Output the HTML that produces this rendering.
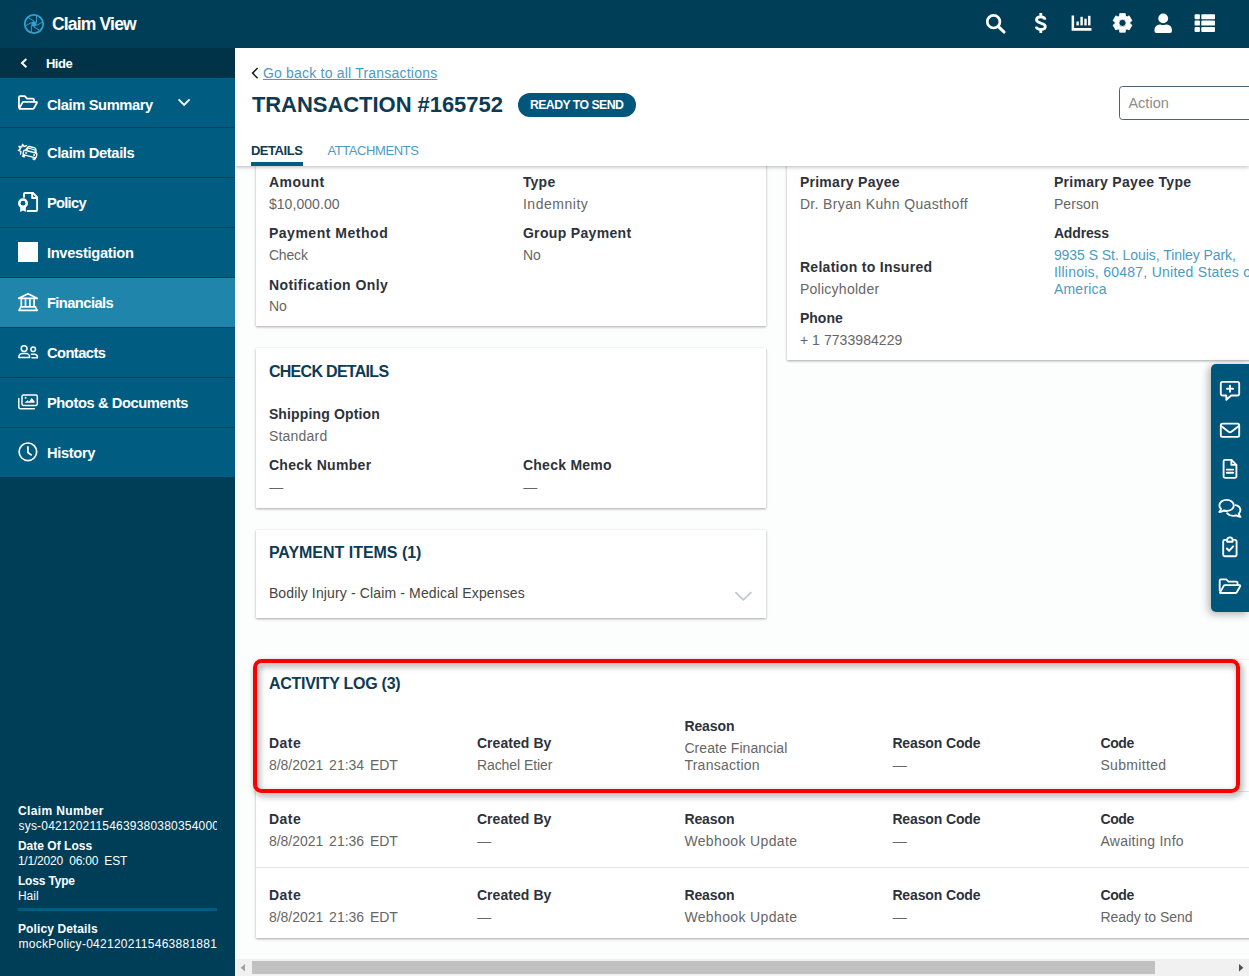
<!DOCTYPE html>
<html lang="en">
<head>
<meta charset="utf-8">
<title>Claim View - Transaction #165752</title>
<style>
*{box-sizing:border-box;margin:0;padding:0}
html,body{width:1249px;height:976px;overflow:hidden;background:#fcfdfd}
body{font-family:"Liberation Sans",sans-serif;font-size:14px;color:#2b2b2b;position:relative}
.a{position:absolute}
.t{position:absolute;white-space:pre;line-height:1;z-index:5}
.b{font-weight:bold}
#hdr{left:0;top:0;width:1249px;height:48px;background:#003e57;z-index:4}
#side{left:0;top:48px;width:235px;height:928px;background:#003e58;z-index:4}
#hide{left:0;top:0;width:235px;height:30px;background:#003348}
.nav{position:absolute;left:0;width:235px;height:50px;background:#005c80;border-bottom:1px solid #00435f}
.nav.on{background:#2085ab}
#top{left:235px;top:48px;width:1014px;height:118px;background:#fff;box-shadow:0 1px 4px rgba(0,0,0,.28);z-index:3}
.card{position:absolute;background:#fff;box-shadow:0 1px 3px rgba(0,0,0,.14),0 1px 2px rgba(0,0,0,.22);z-index:1}
svg{position:absolute;overflow:visible;z-index:6}
.ol{fill:none;stroke:#fff;stroke-width:1.6;stroke-linecap:round;stroke-linejoin:round}
.sep{position:absolute;height:1px;background:#dfe6eb;z-index:2}
</style>
</head>
<body>

<div id="hdr" class="a"></div>
<div id="side" class="a"><div id="hide" class="a"></div>
<div class="nav" style="top:30px"></div>
<div class="nav" style="top:80px"></div>
<div class="nav" style="top:130px"></div>
<div class="nav" style="top:180px"></div>
<div class="nav on" style="top:230px"></div>
<div class="nav" style="top:280px"></div>
<div class="nav" style="top:330px"></div>
<div class="nav" style="top:380px;height:49px;border-bottom:0"></div>
<div class="a" style="left:18px;top:860px;width:199px;height:3px;background:#005c80"></div>
</div>
<div id="top" class="a"></div>
<div class="a" style="left:518px;top:93px;width:118px;height:24px;border-radius:12px;background:#00567b;z-index:4"></div>
<div class="a" style="left:251px;top:162px;width:52px;height:4px;background:#005c80;z-index:4"></div>
<div class="a" style="left:1119px;top:86px;width:150px;height:34px;border:1px solid #4b6272;border-radius:3.500px;background:#fff;z-index:4"></div>
<div class="card" style="left:256px;top:130px;width:510px;height:196px"></div>
<div class="card" style="left:787px;top:130px;width:480px;height:230px"></div>
<div class="card" style="left:256px;top:348px;width:510px;height:160px"></div>
<div class="card" style="left:256px;top:530px;width:510px;height:88px"></div>
<div class="card" style="left:256px;top:660px;width:1010px;height:278px"></div>
<div class="sep" style="left:256px;top:791px;width:993px"></div>
<div class="sep" style="left:256px;top:867px;width:993px"></div>
<div class="a" style="left:253px;top:659px;width:986.800px;height:133.500px;border:4px solid #fc0000;border-radius:8.500px;z-index:7;filter:drop-shadow(2px 3px 3px rgba(0,0,0,.43))"></div>
<div class="a" style="left:1211px;top:364px;width:38px;height:247.500px;background:#00557a;border-radius:5px 0 0 5px;box-shadow:-2px 2px 8px rgba(0,0,0,.32);z-index:4"></div>
<div class="a" style="left:235px;top:959px;width:1014px;height:17px;background:#f1f1f1;z-index:8"></div>
<div class="a" style="left:252px;top:961px;width:903px;height:13px;background:#c1c1c1;z-index:9"></div>
<svg style="left:0;top:0;z-index:9" width="1249" height="976"><path d="M245 964v7.4l-4.4-3.7z" fill="#a3a3a3"/><path d="M1239 964v7.4l4.4-3.7z" fill="#505050"/></svg>
<div class="a" style="left:18.5px;top:817.64px;width:198.7px;height:17px;overflow:hidden;z-index:5"><span class="t" style="left:0;top:2px;font-size:12px;color:#fff;letter-spacing:0.2px">sys-0421202115463938038035400012</span></div>
<div class="a" style="left:18.5px;top:936.14px;width:198.7px;height:17px;overflow:hidden;z-index:5"><span class="t" style="left:0;top:2px;font-size:12px;color:#fff;letter-spacing:0.27px">mockPolicy-042120211546388188188</span></div>
<div class="t b" style="left:51.9px;top:16.19px;font-size:17.5px;color:#fff;letter-spacing:-0.809px">Claim View</div>
<div class="t b" style="left:45.9px;top:57.00px;font-size:13px;color:#fff;letter-spacing:-0.418px">Hide</div>
<div class="t b" style="left:46.9px;top:97.56px;font-size:14.7px;color:#fff;letter-spacing:-0.387px">Claim Summary</div>
<div class="t b" style="left:46.9px;top:145.56px;font-size:14.7px;color:#fff;letter-spacing:-0.365px">Claim Details</div>
<div class="t b" style="left:46.9px;top:195.56px;font-size:14.7px;color:#fff;letter-spacing:-0.714px">Policy</div>
<div class="t b" style="left:46.9px;top:245.56px;font-size:14.7px;color:#fff;letter-spacing:-0.300px">Investigation</div>
<div class="t b" style="left:46.9px;top:295.56px;font-size:14.7px;color:#fff;letter-spacing:-0.554px">Financials</div>
<div class="t b" style="left:46.9px;top:345.56px;font-size:14.7px;color:#fff;letter-spacing:-0.543px">Contacts</div>
<div class="t b" style="left:46.9px;top:395.56px;font-size:14.7px;color:#fff;letter-spacing:-0.407px">Photos &amp; Documents</div>
<div class="t b" style="left:46.9px;top:445.56px;font-size:14.7px;color:#fff;letter-spacing:-0.344px">History</div>
<div class="t b" style="left:17.9px;top:804.84px;font-size:12px;color:#fff;letter-spacing:0.378px">Claim Number</div>
<div class="t b" style="left:17.9px;top:839.84px;font-size:12px;color:#fff;letter-spacing:0.024px">Date Of Loss</div>
<div class="t" style="left:17.9px;top:854.54px;font-size:12px;color:#fff;letter-spacing:-0.197px;word-spacing:3px">1/1/2020 06:00 EST</div>
<div class="t b" style="left:17.9px;top:874.84px;font-size:12px;color:#fff;letter-spacing:-0.163px">Loss Type</div>
<div class="t" style="left:17.9px;top:889.54px;font-size:12px;color:#fff;letter-spacing:0.057px">Hail</div>
<div class="t b" style="left:17.9px;top:923.24px;font-size:12px;color:#fff;letter-spacing:0.132px">Policy Details</div>
<div class="t" style="left:262.9px;top:65.65px;font-size:14px;color:#4a9bc4;letter-spacing:0.208px;text-decoration:underline;text-underline-offset:1px">Go back to all Transactions</div>
<div class="t b" style="left:251.9px;top:93.58px;font-size:22px;color:#0d3b54;letter-spacing:-0.046px">TRANSACTION #165752</div>
<div class="t b" style="left:529.9px;top:98.59px;font-size:12.3px;color:#fff;letter-spacing:-0.553px">READY TO SEND</div>
<div class="t b" style="left:250.9px;top:144.00px;font-size:13px;color:#0d3b54;letter-spacing:-0.451px">DETAILS</div>
<div class="t" style="left:327.4px;top:144.00px;font-size:13px;color:#4a9bc4;letter-spacing:-0.416px">ATTACHMENTS</div>
<div class="t" style="left:1128.4px;top:95.73px;font-size:14.5px;color:#8c8c8c;letter-spacing:0.031px">Action</div>
<div class="t b" style="left:268.9px;top:175.15px;font-size:14px;color:#2d323b;letter-spacing:0.485px">Amount</div>
<div class="t" style="left:268.9px;top:197.15px;font-size:14px;color:#666;letter-spacing:0.062px">$10,000.00</div>
<div class="t b" style="left:268.9px;top:226.15px;font-size:14px;color:#2d323b;letter-spacing:0.527px">Payment Method</div>
<div class="t" style="left:268.9px;top:248.15px;font-size:14px;color:#666;letter-spacing:-0.158px">Check</div>
<div class="t b" style="left:268.9px;top:277.65px;font-size:14px;color:#2d323b;letter-spacing:0.435px">Notification Only</div>
<div class="t" style="left:268.9px;top:299.15px;font-size:14px;color:#666;letter-spacing:0.047px">No</div>
<div class="t b" style="left:522.9px;top:175.15px;font-size:14px;color:#2d323b;letter-spacing:0.215px">Type</div>
<div class="t" style="left:522.9px;top:197.15px;font-size:14px;color:#666;letter-spacing:0.533px">Indemnity</div>
<div class="t b" style="left:522.9px;top:226.15px;font-size:14px;color:#2d323b;letter-spacing:0.327px">Group Payment</div>
<div class="t" style="left:522.9px;top:248.15px;font-size:14px;color:#666;letter-spacing:0.047px">No</div>
<div class="t b" style="left:799.9px;top:175.15px;font-size:14px;color:#2d323b;letter-spacing:0.267px">Primary Payee</div>
<div class="t" style="left:799.9px;top:197.15px;font-size:14px;color:#666;letter-spacing:0.363px">Dr. Bryan Kuhn Quasthoff</div>
<div class="t b" style="left:799.9px;top:260.15px;font-size:14px;color:#2d323b;letter-spacing:0.300px">Relation to Insured</div>
<div class="t" style="left:799.9px;top:282.15px;font-size:14px;color:#666;letter-spacing:0.270px">Policyholder</div>
<div class="t b" style="left:799.9px;top:310.65px;font-size:14px;color:#2d323b;letter-spacing:0.044px">Phone</div>
<div class="t" style="left:799.9px;top:333.15px;font-size:14px;color:#666;letter-spacing:0.064px">+ 1 7733984229</div>
<div class="t b" style="left:1053.9px;top:175.15px;font-size:14px;color:#2d323b;letter-spacing:0.303px">Primary Payee Type</div>
<div class="t" style="left:1053.9px;top:197.15px;font-size:14px;color:#666;letter-spacing:0.107px">Person</div>
<div class="t b" style="left:1053.9px;top:226.15px;font-size:14px;color:#2d323b;letter-spacing:-0.147px">Address</div>
<div class="t" style="left:1053.9px;top:248.15px;font-size:14px;color:#4a9bc4;letter-spacing:-0.055px">9935 S St. Louis, Tinley Park,</div>
<div class="t" style="left:1053.9px;top:265.15px;font-size:14px;color:#4a9bc4;letter-spacing:0.257px">Illinois, 60487, United States of</div>
<div class="t" style="left:1053.9px;top:282.15px;font-size:14px;color:#4a9bc4;letter-spacing:0.234px">America</div>
<div class="t b" style="left:268.9px;top:364.26px;font-size:16px;color:#0d3b54;letter-spacing:-0.700px">CHECK DETAILS</div>
<div class="t b" style="left:268.9px;top:407.15px;font-size:14px;color:#2d323b;letter-spacing:0.142px">Shipping Option</div>
<div class="t" style="left:268.9px;top:429.15px;font-size:14px;color:#666;letter-spacing:0.209px">Standard</div>
<div class="t b" style="left:268.9px;top:458.15px;font-size:14px;color:#2d323b;letter-spacing:0.307px">Check Number</div>
<div class="t b" style="left:522.9px;top:458.15px;font-size:14px;color:#2d323b;letter-spacing:0.264px">Check Memo</div>
<div class="t b" style="left:268.9px;top:545.26px;font-size:16px;color:#0d3b54;letter-spacing:-0.024px">PAYMENT ITEMS (1)</div>
<div class="t" style="left:268.9px;top:586.15px;font-size:14px;color:#444;letter-spacing:0.137px">Bodily Injury - Claim - Medical Expenses</div>
<div class="t b" style="left:268.9px;top:676.26px;font-size:16px;color:#0d3b54;letter-spacing:-0.264px">ACTIVITY LOG (3)</div>
<div class="t b" style="left:268.9px;top:736.15px;font-size:14px;color:#2d323b;letter-spacing:0.535px">Date</div>
<div class="t" style="left:268.9px;top:758.15px;font-size:14px;color:#666;letter-spacing:-0.017px;word-spacing:2px">8/8/2021 21:34 EDT</div>
<div class="t b" style="left:476.9px;top:736.15px;font-size:14px;color:#2d323b;letter-spacing:0.058px">Created By</div>
<div class="t b" style="left:892.4px;top:736.15px;font-size:14px;color:#2d323b;letter-spacing:-0.134px">Reason Code</div>
<div class="t b" style="left:1100.4px;top:736.15px;font-size:14px;color:#2d323b;letter-spacing:-0.375px">Code</div>
<div class="t" style="left:1100.4px;top:758.15px;font-size:14px;color:#666;letter-spacing:0.328px">Submitted</div>
<div class="t" style="left:476.9px;top:758.15px;font-size:14px;color:#666;letter-spacing:-0.064px">Rachel Etier</div>
<div class="t b" style="left:268.9px;top:812.15px;font-size:14px;color:#2d323b;letter-spacing:0.535px">Date</div>
<div class="t" style="left:268.9px;top:834.15px;font-size:14px;color:#666;letter-spacing:-0.017px;word-spacing:2px">8/8/2021 21:36 EDT</div>
<div class="t b" style="left:476.9px;top:812.15px;font-size:14px;color:#2d323b;letter-spacing:0.058px">Created By</div>
<div class="t b" style="left:892.4px;top:812.15px;font-size:14px;color:#2d323b;letter-spacing:-0.134px">Reason Code</div>
<div class="t b" style="left:1100.4px;top:812.15px;font-size:14px;color:#2d323b;letter-spacing:-0.375px">Code</div>
<div class="t" style="left:1100.4px;top:834.15px;font-size:14px;color:#666;letter-spacing:0.276px">Awaiting Info</div>
<div class="t b" style="left:684.4px;top:812.15px;font-size:14px;color:#2d323b;letter-spacing:-0.096px">Reason</div>
<div class="t" style="left:684.4px;top:834.15px;font-size:14px;color:#666;letter-spacing:0.362px">Webhook Update</div>
<div class="t b" style="left:268.9px;top:888.15px;font-size:14px;color:#2d323b;letter-spacing:0.535px">Date</div>
<div class="t" style="left:268.9px;top:910.15px;font-size:14px;color:#666;letter-spacing:-0.017px;word-spacing:2px">8/8/2021 21:36 EDT</div>
<div class="t b" style="left:476.9px;top:888.15px;font-size:14px;color:#2d323b;letter-spacing:0.058px">Created By</div>
<div class="t b" style="left:892.4px;top:888.15px;font-size:14px;color:#2d323b;letter-spacing:-0.134px">Reason Code</div>
<div class="t b" style="left:1100.4px;top:888.15px;font-size:14px;color:#2d323b;letter-spacing:-0.375px">Code</div>
<div class="t" style="left:1100.4px;top:910.15px;font-size:14px;color:#666;letter-spacing:-0.048px">Ready to Send</div>
<div class="t b" style="left:684.4px;top:888.15px;font-size:14px;color:#2d323b;letter-spacing:-0.096px">Reason</div>
<div class="t" style="left:684.4px;top:910.15px;font-size:14px;color:#666;letter-spacing:0.362px">Webhook Update</div>
<div class="t b" style="left:684.4px;top:719.15px;font-size:14px;color:#2d323b;letter-spacing:-0.096px">Reason</div>
<div class="t" style="left:684.4px;top:741.15px;font-size:14px;color:#666;letter-spacing:0.066px">Create Financial</div>
<div class="t" style="left:684.4px;top:758.15px;font-size:14px;color:#666;letter-spacing:0.261px">Transaction</div>
<div class="t" style="left:269.2px;top:479.8px;font-size:14px;color:#666;letter-spacing:-1px">—</div>
<div class="t" style="left:523.2px;top:479.8px;font-size:14px;color:#666;letter-spacing:-1px">—</div>
<div class="t" style="left:892.7px;top:757.8px;font-size:14px;color:#666;letter-spacing:-1px">—</div>
<div class="t" style="left:477.2px;top:833.8px;font-size:14px;color:#666;letter-spacing:-1px">—</div>
<div class="t" style="left:892.7px;top:833.8px;font-size:14px;color:#666;letter-spacing:-1px">—</div>
<div class="t" style="left:477.2px;top:909.8px;font-size:14px;color:#666;letter-spacing:-1px">—</div>
<div class="t" style="left:892.7px;top:909.8px;font-size:14px;color:#666;letter-spacing:-1px">—</div>
<svg style="left:0;top:0" width="1249" height="976" viewBox="0 0 1249 976">
<circle cx="33.95" cy="24.0" r="9.2" fill="none" stroke="#33a0cd" stroke-width="1.8"/>
<path d="M36.55 25.50L33.95 27.00L31.35 25.50L31.35 22.50L33.95 21.00L36.55 22.50Z" fill="#33a0cd"/>
<path d="M36.55 25.50L42.35 22.15M33.95 27.00L39.75 30.35M31.35 25.50L31.35 32.20M31.35 22.50L25.55 25.85M33.95 21.00L28.15 17.65M36.55 22.50L36.55 15.80" stroke="#33a0cd" stroke-width="1" fill="none"/>
<g fill="#fff" stroke="none">
<circle cx="993.6" cy="21.7" r="6.3" fill="none" stroke="#fff" stroke-width="2.7"/><path d="M998.4 26.6l5.6 5.4" stroke="#fff" stroke-width="3.1" stroke-linecap="round"/>
<path d="M1071.6 15.6h2.5v12.5h17.4v2.6h-19.9z"/><rect x="1076.4" y="21.5" width="2.4" height="3.9"/><rect x="1080.4" y="16.8" width="2.4" height="8.6"/><rect x="1084.3" y="18.7" width="2.4" height="6.7"/><rect x="1088.1" y="15.8" width="2.4" height="9.6"/>
<path d="M1119.58 15.99L1119.73 13.61L1125.27 13.61L1125.42 15.99L1127.02 16.92L1129.16 15.85L1131.94 20.65L1129.94 21.98L1129.94 23.82L1131.94 25.15L1129.16 29.95L1127.02 28.88L1125.42 29.81L1125.27 32.19L1119.73 32.19L1119.58 29.81L1117.98 28.88L1115.84 29.95L1113.06 25.15L1115.06 23.82L1115.06 21.98L1113.06 20.65L1115.84 15.85L1117.98 16.92ZM1126.10 22.9a3.6 3.6 0 1 0 -7.2 0a3.6 3.6 0 1 0 7.2 0Z" fill-rule="evenodd" stroke="#fff" stroke-width=".8" stroke-linejoin="round"/>
<circle cx="1163.2" cy="18.4" r="4.9"/><path d="M1154.5 31.2v-1.6a5.2 5.2 0 0 1 5.2-5.2h.7a6.6 6.6 0 0 0 5.6 0h.7a5.2 5.2 0 0 1 5.2 5.2v1.6a1.8 1.8 0 0 1-1.8 1.8h-13.8a1.8 1.8 0 0 1-1.8-1.8z"/>
<rect x="1194.6" y="14.2" width="5.3" height="5" rx=".9"/><rect x="1201.3" y="14.2" width="13.7" height="5" rx=".9"/>
<rect x="1194.6" y="20.6" width="5.3" height="5" rx=".9"/><rect x="1201.3" y="20.6" width="13.7" height="5" rx=".9"/>
<rect x="1194.6" y="27" width="5.3" height="5" rx=".9"/><rect x="1201.3" y="27" width="13.7" height="5" rx=".9"/>
</g>
<g transform="translate(1040.8 23)" fill="none" stroke="#fff" stroke-width="2.8"><path d="M4.2 -3.4C4 -5.4 2.300 -6.200 0 -6.200C-2.500 -6.200 -4.300 -5.200 -4.300 -3.300C-4.300 -1.200 -2.300 -.6 0 .1C2.500 .8 4.500 1.500 4.500 3.600C4.500 5.600 2.600 6.500 0 6.500C-2.400 6.500 -4.300 5.700 -4.600 3.600"/><path d="M0 -10v3M0 6.500v3.500"/></g>
<path d="M26.4 59l-4.4 4.1 4.4 4.1" fill="none" stroke="#fff" stroke-width="2"/>
<path d="M178.6 99.3l5.5 5.6 5.5-5.6" fill="none" stroke="#fff" stroke-width="1.8"/>
<path d="M257.6 68l-5 5.1 5 5.1" fill="none" stroke="#222" stroke-width="1.6"/>
<path d="M735.4 592.2l8 7.6 8-7.6" fill="none" stroke="#b9cad5" stroke-width="1.8"/>
<g class="ol" style="stroke-width:1.8">
<path d="M18.9 107.2V97.4a1.3 1.3 0 0 1 1.3-1.3h4.6l2.3 2.5h5.6a1.3 1.3 0 0 1 1.3 1.3v1.8"/><path d="M19.4 108.1l3-5.5a1.500 1.500 0 0 1 1.300-.800h12.600a.7.700 0 0 1 .600 1l-2.900 5.300a1.500 1.500 0 0 1-1.300.800H19.800a.6.600 0 0 1-.400-.800z"/>
</g>
<g transform="translate(30.2 152.8) rotate(15) scale(.96)" class="ol" style="stroke-width:1.45"><path d="M-5.400 -1.200L-4 -5.100Q-3.600 -6.100 -2.500 -6.100H3.200Q4.300 -6.100 4.700 -5.100L6.100 -1.200"/><path d="M-4.200 -1.600L-3.300 -4.200H4L4.900 -1.600" stroke-width="1.100"/><rect x="-7" y="-1.300" width="14.200" height="5" rx="1.400"/><rect x="-6.500" y="3.700" width="1.900" height="2.200" fill="#fff" stroke-width=".8"/><rect x="4.800" y="3.700" width="1.900" height="2.200" fill="#fff" stroke-width=".8"/><circle cx="-4.200" cy="1.200" r=".7" fill="#fff" stroke-width=".6"/><circle cx="4.400" cy="1.200" r=".7" fill="#fff" stroke-width=".6"/></g>
<path d="M26.400 145.600l-2.300 1.100-1.500-2.400-.800 2.700-2.900-.600 1.700 2.400-2.300 1.700 2.700.800-.500 2.800" class="ol" style="stroke-width:1.300"/>
<g class="ol" style="stroke-width:1.9"><path d="M24 197v-3a1 1 0 0 1 1-1h8l4.100 4.100V210a1 1 0 0 1-1 1H27.600"/><path d="M32.200 193.200v4.800h4.800"/></g>
<circle cx="23" cy="203.200" r="5" fill="#fff"/><circle cx="23" cy="203.200" r="2.400" fill="#005c80"/><path d="M20.200 206.500v5.600l2.800-1.600 2.800 1.600v-5.600z" fill="#fff"/>
<rect x="18" y="242" width="20" height="20" fill="#fff"/>
<g class="ol" style="stroke-width:1.5"><path d="M28 293.800L37.200 298.300H18.800Z" stroke-width="1.8"/><path d="M21.300 299.300v6.900M25.500 299.300v6.900M29.900 299.300v6.900M34.100 299.300v6.900" stroke-width="1.700" stroke-linecap="butt"/><path d="M20.800 306.900h14.600l1.800 3.500H19z" stroke-width="1.600"/></g>
<g class="ol" style="stroke-width:1.5">
<circle cx="24.100" cy="348.600" r="2.900"/><path d="M18.800 357.600v-.6a3.600 3.600 0 0 1 3.600-3.600h3.600a3.600 3.600 0 0 1 3.600 3.600v.6z"/><circle cx="33.200" cy="349.200" r="2.300"/><path d="M31.400 354.200h3a3 3 0 0 1 3 3v.5h-5.400"/>
<rect x="22" y="395.100" width="15.300" height="10.300" rx="1.400"/><path d="M18.800 398.400v8.800a1.500 1.500 0 0 0 1.500 1.500h14"/>
<circle cx="27.900" cy="451.800" r="8.800" stroke-width="1.700"/><path d="M27.900 447v5.500l3.200 2.400" stroke-width="1.800"/>
</g>
<circle cx="25.600" cy="397.700" r="1" fill="#fff"/><path d="M24.600 402.800l2.900-2.600 1.500 1.400 2.700-3.600 2.900 3.300v1.500z" fill="#fff"/>
<g class="ol" style="stroke-width:1.85">
<path d="M1222.6 381.9h14.8a1.8 1.8 0 0 1 1.8 1.8v10a1.8 1.8 0 0 1-1.8 1.8h-6.2l-4.9 4.3v-4.3h-3.7a1.8 1.8 0 0 1-1.8-1.8v-10a1.8 1.8 0 0 1 1.8-1.8z"/><path d="M1230 385.6v6.2M1226.9 388.7h6.2" stroke-width="1.9"/>
<rect x="1220.8" y="423.6" width="18.4" height="13.2" rx="1.6"/><path d="M1221.2 426l7.4 5.8a2.3 2.3 0 0 0 2.8 0l7.4-5.8"/>
<path d="M1223.6 461.4a1.5 1.5 0 0 1 1.5-1.5h6.4l4.9 4.9v11.6a1.5 1.5 0 0 1-1.5 1.5h-9.8a1.5 1.5 0 0 1-1.5-1.5z"/><path d="M1231.4 460.1v4.8h4.8"/><path d="M1226.8 469.6h6.4M1226.8 472.8h6.4" stroke-width="1.9"/>
<path d="M1226.6 499.8c4 0 7.2 2.5 7.2 5.6s-3.2 5.6-7.2 5.6c-1 0-2-.2-2.9-.5-1 .8-2.6 1.5-4.4 1.5 1-1 1.6-2.2 1.8-3.1-1.1-1-1.7-2.200-1.700-3.500 0-3.100 3.200-5.600 7.200-5.600z"/>
<path d="M1235.600 505.200c2.800.700 4.800 2.700 4.800 5 0 1.300-.600 2.500-1.700 3.500.200.900.800 2.100 1.800 3.100-1.800 0-3.400-.700-4.400-1.500-.900.300-1.900.500-2.900.500-2.500 0-4.700-1-6-2.500"/>
<path d="M1227 539.900h-2.300a1.500 1.500 0 0 0-1.500 1.500v13.300a1.500 1.500 0 0 0 1.500 1.500h10.400a1.500 1.500 0 0 0 1.500-1.500v-13.300a1.500 1.500 0 0 0-1.500-1.500h-2.300"/><path d="M1227.200 541.700v-1.600a2.700 2.700 0 0 1 5.400 0v1.600z"/><path d="M1226.900 548.500l2.200 2.300 4-4.400" stroke-width="2"/>
<path d="M1219.700 590.600v-10a1.300 1.300 0 0 1 1.300-1.300h5.200l2.300 2.300h7.700a1.300 1.300 0 0 1 1.300 1.300v2"/><path d="M1220 592.600l3.700-6.700a1.400 1.400 0 0 1 1.200-.7h14.700a.7.700 0 0 1 .6 1l-3.400 6.100a1.400 1.400 0 0 1-1.200.7h-15a.5.500 0 0 1-.6-.4z"/>
</g>
</svg>
</body>
</html>
